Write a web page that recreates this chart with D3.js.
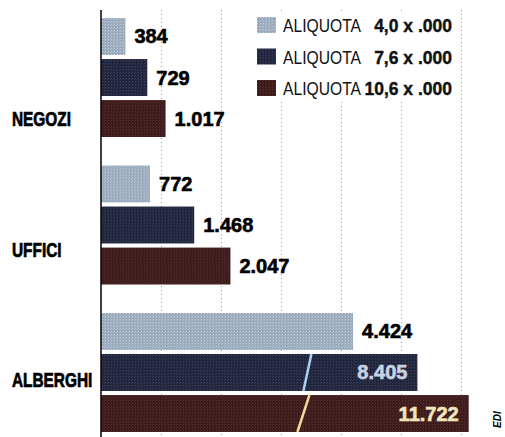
<!DOCTYPE html>
<html>
<head>
<meta charset="utf-8">
<script src="https://cdn.jsdelivr.net/npm/d3@7"></script>
<style>
  html, body { margin: 0; padding: 0; background: #fff; }
  svg { display: block; }
</style>
</head>
<body>
<div id="chart"></div>
<script>
// dati
const categories = ["NEGOZI", "UFFICI", "ALBERGHI"];
const seriesNames = ["4,0 x .000", "7,6 x .000", "10,6 x .000"];
const negozi = [384, 729, 1017];
const uffici = [772, 1468, 2047];
const alberghi = [4424, 8405, 11722];
const gridTicks = [1000, 2000, 3000, 4000, 5000, 6000];

const width = 505, height = 437;
const axisX = 101;
const font = "'Liberation Sans', Arial, sans-serif";

const colors = ["#9aaabd", "#20253c", "#3e1b1b"];
const dotColors = ["#c4d0dc", "#3d4563", "#5a3230"];
const insideText = ["#000", "#c9d2e2", "#f1e6bb"];
const breakColors = ["#fff", "#a9d1f2", "#f0dc98"];

const it = d3.formatLocale({ decimal: ",", thousands: ".", grouping: [3], currency: ["", "€"] });
const fmt = it.format(",d");

const rows = categories.map((c, i) => ({
  cat: c,
  values: [negozi, uffici, alberghi][i].map((v, j) => ({ key: j, value: v }))
}));

const svg = d3.select("#chart").append("svg")
  .attr("width", width)
  .attr("height", height);

// retino tipo stampa
const defs = svg.append("defs");
colors.forEach((c, i) => {
  const p = defs.append("pattern")
    .attr("id", "tex" + i)
    .attr("width", 3).attr("height", 3)
    .attr("patternUnits", "userSpaceOnUse");
  p.append("rect").attr("width", 3).attr("height", 3).attr("fill", c);
  p.append("rect").attr("x", 0).attr("y", 0).attr("width", 1).attr("height", 1).attr("fill", dotColors[i]);
  p.append("rect").attr("x", 2).attr("y", 1).attr("width", 1).attr("height", 1).attr("fill", dotColors[i]).attr("opacity", 0.6);
});

// scala "spezzata": oltre una certa soglia le barre vengono compresse
const x = d3.scaleLinear()
  .domain([0, 2000, 4500, 12000])
  .range([axisX, axisX + 127, axisX + 256, axisX + 372]);
const xGrid = d3.scaleLinear().domain([0, 6000]).range([axisX, axisX + 360]);
const breakValue = 3500;  // le barre oltre 5.000 sono interrotte qui

const y0 = d3.scaleBand()
  .domain(categories)
  .range([18, 432])
  .paddingInner(0.193)
  .paddingOuter(0);

const y1 = d3.scaleBand()
  .domain(d3.range(seriesNames.length))
  .range([0, y0.bandwidth()])
  .paddingInner(0.1);

// griglia tratteggiata
svg.append("g").selectAll("line")
  .data(gridTicks)
  .join("line")
  .attr("x1", d => xGrid(d) + 0.5)
  .attr("x2", d => xGrid(d) + 0.5)
  .attr("y1", 10)
  .attr("y2", height)
  .attr("stroke", "#9a9a9a")
  .attr("stroke-width", 1)
  .attr("stroke-dasharray", "1,3");

// legenda (sfondo bianco sopra la griglia)
const legend = svg.append("g").attr("transform", "translate(257,17)");
legend.append("rect")
  .attr("x", -4).attr("y", -6)
  .attr("width", 198).attr("height", 88)
  .attr("fill", "#fff");

seriesNames.forEach((s, i) => {
  const g = legend.append("g").attr("transform", `translate(0,${i * 31.5})`);
  g.append("rect")
    .attr("width", 19).attr("height", 16)
    .attr("fill", `url(#tex${i})`);
  g.append("text")
    .attr("transform", "translate(26,15) scale(0.87,1)")
    .attr("font-family", font)
    .attr("font-size", "18px")
    .attr("fill", "#111")
    .text("ALIQUOTA");
  g.append("text")
    .attr("x", 195).attr("y", 15)
    .attr("text-anchor", "end")
    .attr("font-family", font)
    .attr("font-weight", "bold")
    .attr("font-size", "17.5px")
    .attr("fill", "#111")
    .attr("stroke", "#111")
    .attr("stroke-width", 0.4)
    .text(s);
});

// barre
const groups = svg.append("g").selectAll("g")
  .data(rows)
  .join("g")
  .attr("transform", d => `translate(0,${y0(d.cat)})`);

groups.selectAll("rect")
  .data(d => d.values)
  .join("rect")
  .attr("x", axisX)
  .attr("y", d => y1(d.key))
  .attr("width", d => x(d.value) - axisX)
  .attr("height", y1.bandwidth())
  .attr("fill", d => `url(#tex${d.key})`);

// segni di interruzione sulle barre troppo lunghe
groups.selectAll("line.break")
  .data(d => d.values.filter(v => v.value > 5000))
  .join("line")
  .attr("class", "break")
  .attr("x1", d => x(breakValue) + 6 - (d.key - 1) * 2)
  .attr("x2", d => x(breakValue) - 2 - (d.key - 1) * 6)
  .attr("y1", d => y1(d.key))
  .attr("y2", d => y1(d.key) + y1.bandwidth())
  .attr("stroke", d => breakColors[d.key])
  .attr("stroke-width", 2.5);

// etichette dei valori
groups.selectAll("text.val")
  .data(d => d.values)
  .join("text")
  .attr("class", "val")
  .attr("x", d => d.value > 5000 ? x(d.value) - 10 : x(d.value) + 9)
  .attr("y", d => y1(d.key) + y1.bandwidth() / 2 + 7)
  .attr("text-anchor", d => d.value > 5000 ? "end" : "start")
  .attr("font-family", font)
  .attr("font-weight", "bold")
  .attr("font-size", "20px")
  .attr("fill", d => d.value > 5000 ? insideText[d.key] : "#000")
  .attr("stroke", d => d.value > 5000 ? insideText[d.key] : "#000")
  .attr("stroke-width", 0.6)
  .text(d => fmt(d.value));

// etichette delle categorie
const labelShift = [41, 25, 8];
svg.append("g").selectAll("text")
  .data(categories)
  .join("text")
  .attr("transform", (d, i) => `translate(12,${y0(d) + y0.bandwidth() / 2 + labelShift[i] + 7}) scale(0.77,1)`)
  .attr("font-family", font)
  .attr("font-weight", "bold")
  .attr("font-size", "20px")
  .attr("fill", "#000")
  .attr("stroke", "#000")
  .attr("stroke-width", 0.7)
  .text(d => d);

// asse verticale
svg.append("line")
  .attr("x1", axisX).attr("x2", axisX)
  .attr("y1", 10).attr("y2", height)
  .attr("stroke", "#000")
  .attr("stroke-width", 1.5);

// sigla
svg.append("text")
  .attr("transform", "translate(501,428) rotate(-90)")
  .attr("font-family", font)
  .attr("font-weight", "bold")
  .attr("font-style", "italic")
  .attr("font-size", "10px")
  .attr("fill", "#000")
  .text("EDI");
</script>
</body>
</html>
